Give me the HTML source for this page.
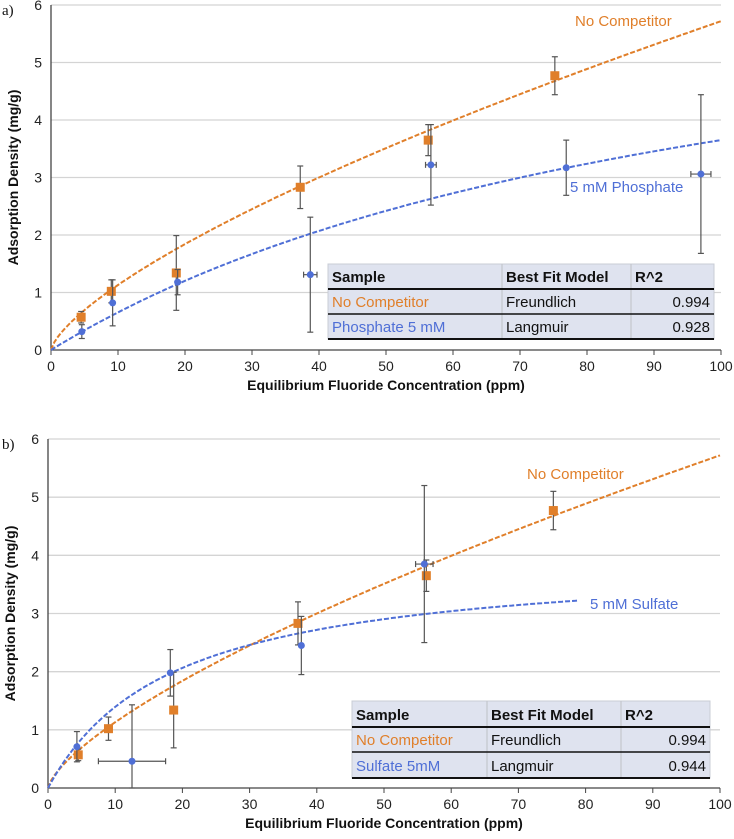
<!DOCTYPE html>
<html><head><meta charset="utf-8">
<style>
body{margin:0;background:#fff;}
svg{display:block;font-family:"Liberation Sans",sans-serif;}
</style></head>
<body>
<svg id="svg" width="734" height="839" viewBox="0 0 734 839" xmlns="http://www.w3.org/2000/svg"></svg>
<script>
const yTicks=[0,1,2,3,4,5,6];
const xTicks=[0,10,20,30,40,50,60,70,80,90,100];
// panel a: no competitor
const ncX=[4.5,9,18.7,37.2,56.3,75.2];
const ncY=[0.57,1.02,1.34,2.83,3.65,4.77];
const ncErr=[0.1,0.2,0.65,0.37,0.27,0.33];
// panel a: phosphate
const phX=[4.6,9.2,18.9,38.7,56.7,76.9,97];
const phY=[0.32,0.82,1.18,1.31,3.22,3.17,3.06];
const phErr=[0.12,0.4,0.22,1.0,0.7,0.48,1.38];
const phXErr=[0,0,0,1,0.8,0,1.5];
// panel b: sulfate
const suX=[4.3,12.5,18.2,37.7,56];
const suY=[0.71,0.46,1.98,2.45,3.85];
const suErr=[0.26,0.97,0.4,0.5,1.35];
const suXErr=[0,5,0,0,1.3];
// fit parameters
const freundK=[0.2235], freundN=[0.704];
const phLang=[7.43,0.00966];
const suLang=[3.98,0.0539];

const NS="http://www.w3.org/2000/svg";
const svg=document.getElementById('svg');
function mk(tag,attrs,parent,text){const e=document.createElementNS(NS,tag);for(const k in attrs)e.setAttribute(k,attrs[k]);if(text!==undefined)e.textContent=text;(parent||svg).appendChild(e);return e;}
const OR="#e07f2a",BL="#4f6fd6";

function panel(p){
  const g=mk('g',{});
  
  
  const X=v=>p.x0+(p.x1-p.x0)*v/100, Y=v=>p.y0-(p.y0-p.y6)*v/6;
  yTicks.forEach(t=>{
    if(t>0){const l=mk('line',{x1:X(0),x2:X(100),y1:Y(t),y2:Y(t),stroke:'#d4d4d4','stroke-width':1.3},g);
    }
    const tx=mk('text',{x:X(0)-9,y:Y(t)+5,'text-anchor':'end','font-size':14,fill:'#222'},g,t);
    
  });
  xTicks.forEach(t=>{
    mk('line',{x1:X(t),x2:X(t),y1:p.y0,y2:p.y0+5,stroke:'#444','stroke-width':1},g);
    const tx=mk('text',{x:X(t),y:p.y0+21,'text-anchor':'middle','font-size':14,fill:'#222'},g,t);
    
  });
  mk('line',{x1:X(0),x2:X(0),y1:Y(6),y2:p.y0,stroke:'#444','stroke-width':1.3},g);
  mk('line',{x1:X(0),x2:X(100),y1:p.y0,y2:p.y0,stroke:'#444','stroke-width':1.3},g);
  const yt=mk('text',{transform:`translate(${p.x0-33},${(p.y0+p.y6)/2}) rotate(-90)`,'text-anchor':'middle','font-size':14,'font-weight':'bold',fill:'#111'},g,'Adsorption Density (mg/g)');
  
  const xt=mk('text',{x:(X(0)+X(100))/2,y:p.y0+40,'text-anchor':'middle','font-size':14,'font-weight':'bold',fill:'#111'},g,'Equilibrium Fluoride Concentration (ppm)');
  
  const pl=mk('text',{x:2,y:Y(6)+10,'font-size':15,'font-family':'Liberation Serif,serif',fill:'#111'},g,p.label);
  
  function curve(f,xmax,col,name){
    let d='';for(let v=0;v<=xmax;v+=0.5){d+=(v?'L':'M')+X(v).toFixed(1)+' '+Y(f(v)).toFixed(1);}
    const c=mk('path',{d:d,fill:'none',stroke:col,'stroke-width':2,'stroke-dasharray':'5 2'},g);
    
  }
  curve(v=>freundK[0]*Math.pow(v,freundN[0]),100,OR,'freundlich-fit-curve');
  curve(v=>p.lang[0]*p.lang[1]*v/(1+p.lang[1]*v),p.langMax,BL,'langmuir-fit-curve');
  function pts(xs,ys,es,xes,col,sq,name){
    xs.forEach((xv,i)=>{
      const cx=X(xv),cy=Y(ys[i]);
      const t=Y(ys[i]+es[i]),b=Y(Math.max(0,ys[i]-es[i]));
      mk('line',{x1:cx,x2:cx,y1:t,y2:b,stroke:'#555','stroke-width':1.2},g);
      mk('line',{x1:cx-3,x2:cx+3,y1:t,y2:t,stroke:'#555','stroke-width':1.2},g);
      mk('line',{x1:cx-3,x2:cx+3,y1:b,y2:b,stroke:'#555','stroke-width':1.2},g);
      if(xes&&xes[i]>0){const l=X(xv-xes[i]),r=X(xv+xes[i]);
        mk('line',{x1:l,x2:r,y1:cy,y2:cy,stroke:'#555','stroke-width':1.2},g);
        mk('line',{x1:l,x2:l,y1:cy-3,y2:cy+3,stroke:'#555','stroke-width':1.2},g);
        mk('line',{x1:r,x2:r,y1:cy-3,y2:cy+3,stroke:'#555','stroke-width':1.2},g);}
      let m;
      if(sq)m=mk('rect',{x:cx-4.5,y:cy-4.5,width:9,height:9,fill:col},g);
      else m=mk('circle',{cx:cx,cy:cy,r:3.5,fill:col},g);
      
    });
  }
  pts(ncX,ncY,ncErr,null,OR,true,'no-competitor-point');
  pts(p.bx,p.by,p.be,p.bxe,BL,false,p.bname);
  const l1=mk('text',{x:p.ncLab[0],y:p.ncLab[1],'font-size':15,fill:OR},g,'No Competitor');
  
  const l2=mk('text',{x:p.bLab[0],y:p.bLab[1],'font-size':15,fill:BL},g,p.bLabText);
  
  const T=p.tab, c=T.cols, r=T.rows;
  const tg=mk('g',{},g);
  mk('rect',{x:c[0],y:r[0],width:c[3]-c[0],height:r[3]-r[0],fill:'#dfe3ef',stroke:'#c8ccd6'},tg);
  [1,2].forEach(j=>mk('line',{x1:c[j],x2:c[j],y1:r[0],y2:r[3],stroke:'#c4c6cc','stroke-width':1.2},tg));
  [1,2,3].forEach(j=>mk('line',{x1:c[0],x2:c[3],y1:r[j],y2:r[j],stroke:'#111','stroke-width':j==2?1.5:2},tg));
  const rows=[['Sample','Best Fit Model','R^2'],['No Competitor','Freundlich','0.994'],[p.bRow,'Langmuir',p.r2]];
  rows.forEach((row,i)=>{
    const yy=r[i+1]-7, bold=i==0?'bold':'normal';
    const col0=i==1?OR:(i==2?BL:'#111');
    mk('text',{x:c[0]+4,y:yy,'font-size':15,'font-weight':bold,fill:col0},tg,row[0]);
    mk('text',{x:c[1]+4,y:yy,'font-size':15,'font-weight':bold,fill:'#111'},tg,row[1]);
    if(i==0)mk('text',{x:c[2]+4,y:yy,'font-size':15,'font-weight':bold,fill:'#111'},tg,row[2]);
    else mk('text',{x:c[3]-4,y:yy,'font-size':15,'text-anchor':'end',fill:'#111'},tg,row[2]);
  });
}
panel({name:'chart-a',label:'a)',x0:51,x1:721,y0:350,y6:5,lang:phLang,langMax:100,
  bx:phX,by:phY,be:phErr,bxe:phXErr,bname:'phosphate-point',
  ncLab:[575,26],bLab:[570,192],bLabText:'5 mM Phosphate',
  tab:{cols:[328,502,631,714],rows:[264,289,314,339]},bRow:'Phosphate 5 mM',r2:'0.928'});
panel({name:'chart-b',label:'b)',x0:48,x1:720,y0:788,y6:439,lang:suLang,langMax:79,
  bx:suX,by:suY,be:suErr,bxe:suXErr,bname:'sulfate-point',
  ncLab:[527,479],bLab:[590,609],bLabText:'5 mM Sulfate',
  tab:{cols:[352,487,621,710],rows:[701,727,752,778]},bRow:'Sulfate 5mM',r2:'0.944'});
</script>
</body></html>
